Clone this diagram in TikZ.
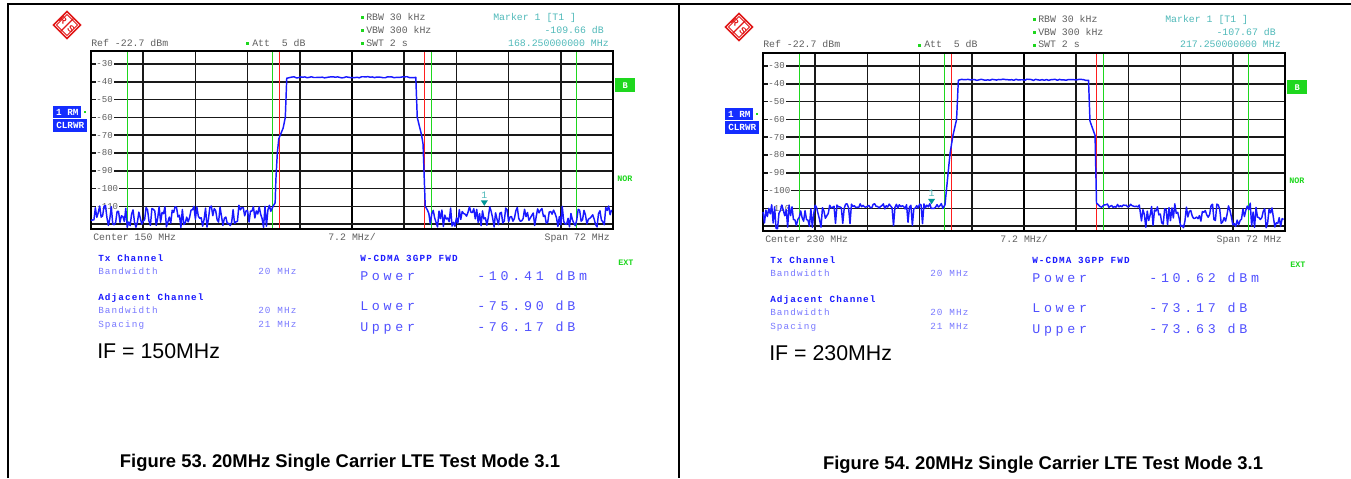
\documentclass[tikz,border=0pt]{standalone}
\usepackage{fontspec}
\setmainfont{Liberation Sans}
\newfontfamily\scrfont{Liberation Mono}
\newfontfamily\tabfont{Liberation Mono}[LetterSpace=12]
\newfontfamily\resfont{Liberation Mono}[LetterSpace=28]
\frenchspacing

\definecolor{rsgreen}{RGB}{30,215,30}
\definecolor{rsred}{RGB}{255,30,30}
\definecolor{rsblue}{RGB}{25,25,255}
\definecolor{rsbox}{RGB}{20,45,255}
\definecolor{rsmid}{RGB}{80,80,255}
\definecolor{rslight}{RGB}{120,120,255}
\definecolor{rsteal}{RGB}{80,185,185}
\definecolor{rsmark}{RGB}{0,150,150}
\definecolor{rsgray}{RGB}{95,95,95}
\definecolor{rslogo}{RGB}{225,25,25}

\tikzset{
  scr/.style={font=\scrfont\fontsize{7.4}{8}\selectfont, text=rsgray, inner sep=0pt, anchor=base west},
  mk/.style={scr, text=rsteal},
  ax/.style={font=\scrfont\fontsize{6.8}{7}\selectfont, text=rsgray, fill=white, inner sep=0.6pt, anchor=west},
  tabhead/.style={font=\tabfont\bfseries\fontsize{7}{8}\selectfont, text=rsblue, inner sep=0pt, anchor=base west},
  tab/.style={font=\tabfont\fontsize{7}{8}\selectfont, text=rslight, inner sep=0pt, anchor=base west},
  res/.style={font=\resfont\fontsize{10}{12}\selectfont, text=rsmid, inner sep=0pt, anchor=base west},
  flag/.style={font=\scrfont\bfseries\fontsize{6.3}{7}\selectfont, text=rsgreen, inner sep=0pt, anchor=base west},
  rmbox/.style={fill=rsbox, text=white, font=\scrfont\bfseries\fontsize{7}{7}\selectfont, inner sep=0pt, anchor=north west},
  bbox/.style={fill=rsgreen, text=white, font=\scrfont\bfseries\fontsize{6.5}{7}\selectfont, inner sep=0pt, anchor=north west},
  scrgrid/.style={black!90, line width=1.3pt},
  chan/.style={rsgreen, line width=1pt},
  txedge/.style={rsred, line width=1pt},
  sigtrace/.style={rsblue, line width=1.1pt, line join=round},
  iftext/.style={font=\fontsize{16}{18}\selectfont, inner sep=0pt, anchor=base west},
  figcap/.style={font=\bfseries\fontsize{13.8}{16}\selectfont, inner sep=0pt}
}

\begin{document}
\begin{tikzpicture}[x=0.75pt,y=-0.75pt]
\useasboundingbox (0,0) rectangle (1351,478);

\draw[line width=1.1pt] (8,478) -- (8,4) -- (1351,4);
\draw[line width=1.1pt] (679,4) -- (679,478);

\foreach \sx/\sy/\ctr/\mlev/\mfrq/\vpw/\vlo/\vup/\ifreq in
  {0/0/150/-109.66/168.250000000/-10.41/-75.90/-76.17/150,
   672/2/230/-107.67/217.250000000/-10.62/-73.17/-73.63/230} {
\begin{scope}[shift={(\sx,\sy)}]
  % logo
  \draw[rslogo, line width=1.3pt] (67,11.5) -- (80.5,25) -- (67,38.5) -- (53.5,25) -- cycle;
  \draw[rslogo, line width=0.6pt] (67,14.5) -- (77.5,25) -- (67,35.5) -- (56.5,25) -- cycle;
  \draw[rslogo, line width=1pt] (60.2,31.8) -- (73.8,18.2);
  \node[text=rslogo, font=\bfseries\fontsize{7}{7}\selectfont, inner sep=0pt, rotate=-40] (logor) at (63,20.5) {R};
  \node[text=rslogo, font=\bfseries\fontsize{7}{7}\selectfont, inner sep=0pt, rotate=-40] (logos) at (71,29.5) {S};

  % settings
  \node[scr] (ref) at (91,46) {Ref -22.7 dBm};
  \fill[rsgreen] (246,42) rectangle ++(2.6,2.6);
  \node[scr] (att) at (252,46) {Att~~5 dB};
  \fill[rsgreen] (361,16.5) rectangle ++(2.6,2.6);
  \fill[rsgreen] (361,29.5) rectangle ++(2.6,2.6);
  \fill[rsgreen] (361,42) rectangle ++(2.6,2.6);
  \node[scr] (rbw) at (366,21) {RBW 30 kHz};
  \node[scr] (vbw) at (366,34) {VBW 300 kHz};
  \node[scr] (swt) at (366,46) {SWT 2 s};
  \node[mk] (mkname) at (493,21) {Marker 1 [T1 ]};
  \node[mk, anchor=base east] (mklev) at (604,34) {\mlev\ dB};
  \node[mk, anchor=base east] (mkfrq) at (609,46) {\mfrq\ MHz};

  % side labels
  \node[rmbox, minimum width=21pt, minimum height=9pt] (rm) at (53,106) {1 RM};
  \node[rmbox, minimum width=25.5pt, minimum height=9.7pt] (clrwr) at (53,118.5) {CLRWR};
  \fill[rsgreen] (83.5,110.5) rectangle ++(2.6,2.6);
  \node[bbox, minimum width=15pt, minimum height=10.5pt] (bmark) at (615,78) {B};
  \node[flag] (nor) at (617,181) {NOR};

  % screen
  \begin{scope}[shift={(352,10.6)}, x=5.4375pt, y=1.335pt]
    \foreach \k in {1,...,9}
      \draw[scrgrid] ({-36+7.2*\k},-22.7) -- ({-36+7.2*\k},-122.7);
    \draw[black, line width=2pt] (0,-22.7) -- (0,-122.7);
    \foreach \d in {-30,-40,...,-120}
      \draw[scrgrid] (-36,\d) -- (36,\d);
    \foreach \d in {-30,-40,...,-110}
      \node[ax] at (-35.4,\d) {\d};
    \foreach \f in {-31,-11,11,31}
      \draw[chan] (\f,-22.7) -- (\f,-122.7);
    \draw[txedge] (-10,-22.7) -- (-10,-122.7);
    \draw[txedge] (10,-22.7) -- (10,-122.7);
    \draw[black, line width=2.2pt] (-36,-22.7) rectangle (36,-122.7);
  \end{scope}

  \node[scr] (center) at (93,240) {Center \ctr\ MHz};
  \node[scr, anchor=base] (div) at (352,240) {7.2 MHz/};
  \node[scr, anchor=base east] (span) at (610,240) {Span 72 MHz};

  % channel table
  \node[tabhead] (tx) at (98,261) {Tx Channel};
  \node[tab] (txbw) at (98,274) {Bandwidth};
  \node[tab] (txbwv) at (258,274) {20 MHz};
  \node[tabhead] (adj) at (98,300.5) {Adjacent Channel};
  \node[tab] (adjbw) at (98,313.5) {Bandwidth};
  \node[tab] (adjbwv) at (258,313.5) {20 MHz};
  \node[tab] (adjsp) at (98,327.5) {Spacing};
  \node[tab] (adjspv) at (258,327.5) {21 MHz};
  \node[tabhead] (std) at (360,261) {W-CDMA 3GPP FWD};
  \node[flag] (ext) at (618,265) {EXT};
  \node[res] (pw) at (360,280.5) {Power};
  \node[res] (pwv) at (477,280.5) {\vpw\ dBm};
  \node[res] (lo) at (360,310) {Lower};
  \node[res] (lov) at (477,310) {\vlo\ dB};
  \node[res] (up) at (360,331.5) {Upper};
  \node[res] (upv) at (477,331.5) {\vup\ dB};
  \node[iftext] (if) at (97,358.5) {IF = \ifreq MHz};
\end{scope}
}

% trace, IF = 150MHz
\pgfmathsetseed{53}
\begin{scope}[shift={(352,10.6)}, x=5.4375pt, y=1.335pt]
  \draw[sigtrace] (-36,-118)
    \foreach \f in {-35.8,-35.6,...,-11.1} { -- (\f,{-109.3-12.7*rnd}) }
    -- (-10.9,-110) -- (-10.6,-108) -- (-10.5,-95) -- (-10.3,-80) -- (-10.1,-72)
    -- (-9.5,-66) -- (-9.2,-60) -- (-9.0,-38)
    \foreach \f in {-8.6,-8.3,...,8.6} { -- (\f,{-37.1-0.7*rnd}) }
    -- (8.8,-37.5) -- (9.0,-60) -- (9.6,-70) -- (9.8,-75) -- (10.1,-110) -- (10.4,-112)
    \foreach \f in {10.6,10.8,...,35.9} { -- (\f,{-109.3-12.7*rnd}) };
  \fill[rsmark] (18.25,-109.66) -- ++(-2.6pt,4pt) -- ++(5.2pt,0pt) -- cycle;
  \node[mk, anchor=base, yshift=5.5pt] (mark53) at (18.25,-109.66) {1};
\end{scope}

% trace, IF = 230MHz
\pgfmathsetseed{54}
\begin{scope}[shift={(1024,12.6)}, x=5.4375pt, y=1.335pt]
  \draw[sigtrace] (-36,-112)
    \foreach \f in {-35.8,-35.6,...,-27} { -- (\f,{-107.5-14*rnd}) }
    \foreach \f in {-26.8,-26.6,...,-11.1} { -- (\f,{-107.3-3*rnd-10*(rnd>0.86)}) }
    -- (-10.9,-108) -- (-10.2,-79) -- (-9.8,-69) -- (-9.3,-60) -- (-9.06,-38)
    \foreach \f in {-8.6,-8.3,...,8.6} { -- (\f,{-37.4-0.7*rnd}) }
    -- (8.9,-38) -- (9.1,-61) -- (9.8,-69) -- (10.0,-107) -- (10.5,-109)
    \foreach \f in {10.7,10.9,...,16} { -- (\f,{-107.5-2*rnd}) }
    \foreach \f in {16.2,16.4,...,35.9} { -- (\f,{-107-14*rnd}) };
  \fill[rsmark] (-12.75,-107.67) -- ++(-2.6pt,4pt) -- ++(5.2pt,0pt) -- cycle;
  \node[mk, anchor=base, yshift=5.5pt] (mark54) at (-12.75,-107.67) {1};
\end{scope}

\node[figcap] (cap53) at (340,463) {Figure 53. 20MHz Single Carrier LTE Test Mode 3.1};
\node[figcap] (cap54) at (1043,465) {Figure 54. 20MHz Single Carrier LTE Test Mode 3.1};
\end{tikzpicture}
\end{document}
